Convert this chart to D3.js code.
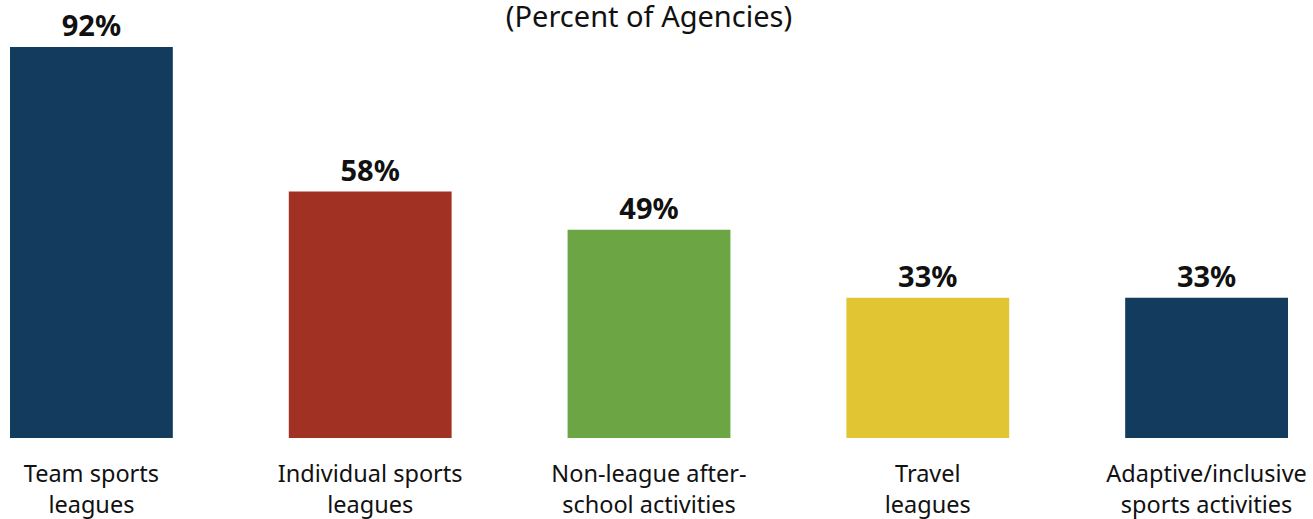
<!DOCTYPE html>
<html>
<head>
<meta charset="utf-8">
<script src="https://cdn.jsdelivr.net/npm/d3@7/dist/d3.min.js"></script>
<style>
  html, body { margin: 0; padding: 0; background: #fff; }
  svg { display: block; }
  text { font-family: "Noto Sans", "Open Sans", sans-serif; }
</style>
</head>
<body>
<svg id="chart" width="1313" height="519"></svg>
<script>
// Program offerings, share of agencies
const categories = [
  ["Team sports", "leagues"],
  ["Individual sports", "leagues"],
  ["Non-league after-", "school activities"],
  ["Travel", "leagues"],
  ["Adaptive/inclusive", "sports activities"]
];
const values = [92, 58, 49, 33, 33];
const colors = ["#123b5e", "#a03123", "#6ca543", "#e2c532", "#123b5e"];
const title = "(Percent of Agencies)";

const svg = d3.select("#chart");
const baseline = 438;

const x = d3.scaleBand()
  .domain(d3.range(values.length))
  .range([10, 1288])
  .paddingInner(0.416)
  .paddingOuter(0);

const y = d3.scaleLinear()
  .domain([0, 100])
  .range([baseline, baseline - 425]);

svg.append("text")
  .attr("x", 649)
  .attr("y", 27)
  .attr("text-anchor", "middle")
  .attr("font-size", 29)
  .attr("fill", "#111")
  .text(title);

const g = svg.selectAll("g.bar")
  .data(values)
  .join("g")
  .attr("class", "bar");

g.append("rect")
  .attr("x", (d, i) => x(i))
  .attr("y", d => y(d))
  .attr("width", x.bandwidth())
  .attr("height", d => y(0) - y(d))
  .attr("fill", (d, i) => colors[i]);

g.append("text")
  .attr("x", (d, i) => x(i) + x.bandwidth() / 2)
  .attr("y", d => y(d) - 11)
  .attr("text-anchor", "middle")
  .attr("font-size", 29)
  .attr("font-weight", "bold")
  .attr("fill", "#111")
  .text(d => d + "%");

const labels = svg.selectAll("text.cat")
  .data(categories)
  .join("text")
  .attr("class", "cat")
  .attr("x", (d, i) => x(i) + x.bandwidth() / 2)
  .attr("y", 482)
  .attr("text-anchor", "middle")
  .attr("font-size", 23.5)
  .attr("fill", "#111");

labels.selectAll("tspan")
  .data(d => d)
  .join("tspan")
  .attr("x", function () { return d3.select(this.parentNode).attr("x"); })
  .attr("dy", (d, j) => j === 0 ? 0 : 31)
  .text(d => d);
</script>
</body>
</html>
